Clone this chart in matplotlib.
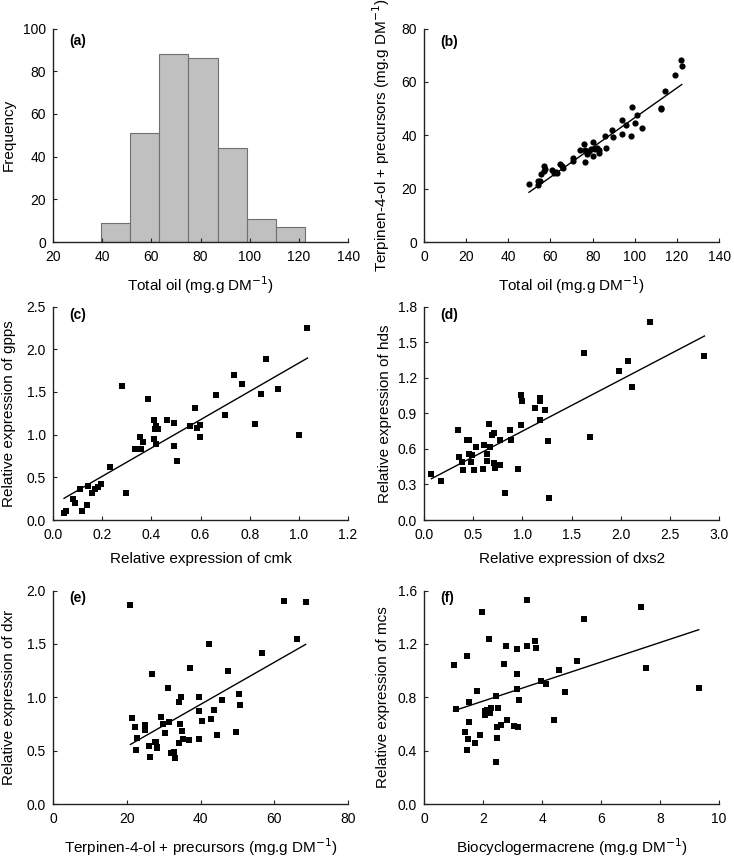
import numpy as np
import matplotlib
matplotlib.use("Agg")
from matplotlib import pyplot as plt

plt.rcParams['font.family'] = ['Liberation Sans', 'DejaVu Sans']

# (a) histogram of total oil
hist_edges = [39.5, 51.3, 63.2, 75.1, 87.0, 98.9, 110.7, 122.5]
hist_counts = [9, 51, 88, 86, 44, 11, 7]

# (b) total oil vs terpinen-4-ol + precursors
oil_b = [49.8, 53.9, 54.1, 55.1, 55.7, 56.8, 57.0, 57.2, 60.9, 61.5, 62.6, 63.3, 64.4, 65.5, 66.1,
         70.9, 70.9, 74.1, 76.0, 76.4, 76.4, 77.5, 78.3, 79.1, 80.0, 80.4, 81.0, 81.9, 83.1, 83.1,
         86.1, 86.5, 89.2, 89.7, 93.8, 94.1, 95.7, 98.1, 98.6, 100.3, 100.9, 103.5, 112.3, 112.6,
         114.1, 119.0, 121.7, 122.3]
terp_b = [21.7, 22.7, 21.2, 22.9, 25.3, 26.7, 28.5, 27.2, 27.0, 25.7, 26.2, 25.8, 29.3, 28.3, 27.8,
          31.4, 30.5, 34.4, 36.9, 29.8, 34.3, 33.0, 34.0, 35.0, 37.4, 32.1, 35.0, 35.1, 33.3, 34.3,
          39.6, 35.4, 42.1, 39.5, 45.7, 40.4, 43.7, 39.6, 50.5, 44.5, 47.6, 42.9, 49.8, 50.3,
          56.6, 62.6, 68.4, 65.9]
fit_b = (0.557, -9.1)

# (c) cmk vs gpps
cmk = [0.045, 0.051, 0.082, 0.089, 0.108, 0.118, 0.138, 0.143, 0.160, 0.170, 0.184, 0.195, 0.233,
       0.281, 0.296, 0.333, 0.352, 0.358, 0.365, 0.387, 0.409, 0.409, 0.415, 0.419, 0.419, 0.427,
       0.463, 0.494, 0.494, 0.506, 0.557, 0.579, 0.586, 0.597, 0.597, 0.664, 0.701, 0.735, 0.768,
       0.823, 0.847, 0.866, 0.916, 1.000, 1.035]
gpps = [0.078, 0.106, 0.247, 0.196, 0.364, 0.110, 0.176, 0.396, 0.317, 0.364, 0.388, 0.419, 0.619,
        1.567, 0.317, 0.831, 0.976, 0.831, 0.917, 1.419, 1.176, 0.944, 1.066, 1.097, 0.889, 1.066,
        1.176, 1.136, 0.862, 0.686, 1.097, 1.313, 1.074, 1.117, 0.972, 1.469, 1.234, 1.701, 1.599,
        1.121, 1.477, 1.885, 1.540, 0.995, 2.253]
fit_c = (1.659, 0.180)

# (d) dxs2 vs hds
dxs2 = [0.075, 0.176, 0.349, 0.359, 0.393, 0.386, 0.434, 0.454, 0.454, 0.475, 0.488, 0.512, 0.529,
        0.603, 0.610, 0.641, 0.641, 0.664, 0.671, 0.692, 0.712, 0.708, 0.725, 0.769, 0.773, 0.827,
        0.875, 0.888, 0.953, 0.990, 0.993, 0.986, 1.125, 1.183, 1.183, 1.183, 1.234, 1.261, 1.268,
        1.624, 1.692, 1.983, 2.078, 2.119, 2.302, 2.851]
hds = [0.387, 0.330, 0.759, 0.530, 0.420, 0.488, 0.678, 0.672, 0.553, 0.488, 0.547, 0.423, 0.615,
       0.432, 0.635, 0.556, 0.497, 0.810, 0.615, 0.714, 0.734, 0.483, 0.437, 0.674, 0.466, 0.226,
       0.762, 0.677, 0.429, 1.052, 1.007, 0.804, 0.945, 1.033, 1.002, 0.844, 0.926, 0.666, 0.183,
       1.411, 0.697, 1.256, 1.343, 1.120, 1.673, 1.383]
fit_d = (0.4335, 0.316)

# (e) terpinen-4-ol + precursors vs dxr
terp_e = [21.0, 21.4, 22.1, 22.5, 22.9, 25.0, 25.0, 25.9, 26.4, 26.9, 27.7, 28.1, 27.9, 28.2, 29.2,
          29.7, 30.4, 31.3, 31.4, 32.0, 32.9, 33.1, 34.1, 34.2, 34.4, 34.8, 35.0, 35.3, 36.9, 37.2,
          39.7, 39.7, 39.5, 40.4, 42.3, 42.9, 43.7, 44.5, 45.9, 47.4, 49.7, 50.3, 50.6, 56.6, 62.7,
          66.1, 68.5]
dxr = [1.869, 0.804, 0.717, 0.510, 0.620, 0.736, 0.698, 0.548, 0.441, 1.221, 0.579, 0.532, 0.585,
       0.526, 0.811, 0.754, 0.670, 1.083, 0.770, 0.482, 0.485, 0.432, 0.573, 0.958, 0.751, 1.005,
       0.682, 0.607, 0.604, 1.271, 1.002, 0.867, 0.610, 0.776, 1.499, 0.792, 0.883, 0.648, 0.970,
       1.246, 0.679, 1.030, 0.926, 1.415, 1.903, 1.546, 1.890]
fit_e = (0.01973, 0.144)

# (f) biocyclogermacrene vs mcs
bicy = [1.00, 1.09, 1.38, 1.44, 1.45, 1.48, 1.51, 1.53, 1.73, 1.78, 1.90, 1.98, 2.05, 2.08, 2.14,
        2.20, 2.23, 2.26, 2.43, 2.45, 2.46, 2.47, 2.49, 2.61, 2.70, 2.79, 2.81, 3.04, 3.15, 3.16,
        3.16, 3.18, 3.23, 3.48, 3.50, 3.75, 3.78, 3.98, 4.12, 4.42, 4.56, 4.77, 5.20, 5.42, 7.36,
        7.53, 9.31]
mcs = [1.041, 0.712, 0.542, 1.106, 0.406, 0.484, 0.612, 0.762, 0.461, 0.850, 0.514, 1.442, 0.665,
       0.695, 0.707, 1.236, 0.685, 0.722, 0.810, 0.313, 0.577, 0.492, 0.717, 0.589, 1.051, 1.181,
       0.629, 0.582, 0.971, 1.159, 0.865, 0.577, 0.777, 1.527, 1.181, 1.221, 1.169, 0.920, 0.898,
       0.632, 1.003, 0.840, 1.071, 1.384, 1.480, 1.021, 0.873]
fit_f = (0.0732, 0.625)

unit = r'(mg.g DM$^{-1}$)'

fig = plt.figure(figsize=(7.34, 8.6), dpi=100)
lx, rx, w = 0.0722, 0.5777, 0.402
rows = [0.7186, 0.3953, 0.0651]
h = 0.2482
axa = fig.add_axes([lx, rows[0], w, h])
axb = fig.add_axes([rx, rows[0], w, h])
axc = fig.add_axes([lx, rows[1], w, h])
axd = fig.add_axes([rx, rows[1], w, h])
axe = fig.add_axes([lx, rows[2], w, h])
axf = fig.add_axes([rx, rows[2], w, h])


def style(ax, label, ly, ylab_x):
    for s in ['top', 'right']:
        ax.spines[s].set_visible(False)
    for s in ['left', 'bottom']:
        ax.spines[s].set_color('#222222')
        ax.spines[s].set_linewidth(1.0)
    ax.tick_params(direction='in', length=3, width=0.8, labelsize=10, color='#222222')
    ax.tick_params(axis='x', pad=6)
    ax.tick_params(axis='y', pad=5)
    ax.xaxis.labelpad = 7
    ax.yaxis.set_label_coords(ylab_x, 0.5)
    ax.text(0.055, ly, label, transform=ax.transAxes, fontsize=10, fontweight='bold',
            ha='left', va='center')


def scatter_fit(ax, x, y, fit, marker):
    ax.scatter(x, y, s=20, marker=marker, color='black', linewidths=0, zorder=3)
    xs = np.array([min(x), max(x)])
    ax.plot(xs, fit[0] * xs + fit[1], color='black', lw=1)


# (a)
axa.bar(hist_edges[:-1], hist_counts, width=np.diff(hist_edges), align='edge',
        color='#c0c0c0', edgecolor='#707070', linewidth=0.8)
axa.set_xlim(20, 140)
axa.set_ylim(0, 100)
axa.set_xticks(range(20, 141, 20))
axa.set_yticks(range(0, 101, 20))
axa.set_ylabel('Frequency', fontsize=11)
axa.set_xlabel('Total oil ' + unit, fontsize=11)
style(axa, '(a)', 0.94, -0.125)

# (b)
scatter_fit(axb, oil_b, terp_b, fit_b, 'o')
axb.set_xlim(0, 140)
axb.set_ylim(0, 80)
axb.set_xticks(range(0, 141, 20))
axb.set_yticks(range(0, 81, 20))
axb.set_ylabel('Terpinen-4-ol + precursors ' + unit, fontsize=11)
axb.set_xlabel('Total oil ' + unit, fontsize=11)
style(axb, '(b)', 0.935, -0.11)

# (c)
scatter_fit(axc, cmk, gpps, fit_c, 's')
axc.set_xlim(0, 1.2)
axc.set_ylim(0, 2.5)
axc.set_xticks(np.arange(0, 1.21, 0.2))
axc.set_yticks(np.arange(0, 2.51, 0.5))
axc.xaxis.set_major_formatter('{x:.1f}')
axc.yaxis.set_major_formatter('{x:.1f}')
axc.set_ylabel('Relative expression of gpps', fontsize=11)
axc.set_xlabel('Relative expression of cmk', fontsize=11)
style(axc, '(c)', 0.96, -0.125)

# (d)
scatter_fit(axd, dxs2, hds, fit_d, 's')
axd.set_xlim(0, 3.0)
axd.set_ylim(0, 1.8)
axd.set_xticks(np.arange(0, 3.01, 0.5))
axd.set_yticks(np.arange(0, 1.81, 0.3))
axd.xaxis.set_major_formatter('{x:.1f}')
axd.yaxis.set_major_formatter('{x:.1f}')
axd.set_ylabel('Relative expression of hds', fontsize=11)
axd.set_xlabel('Relative expression of dxs2', fontsize=11)
style(axd, '(d)', 0.96, -0.11)

# (e)
scatter_fit(axe, terp_e, dxr, fit_e, 's')
axe.set_xlim(0, 80)
axe.set_ylim(0, 2.0)
axe.set_xticks(range(0, 81, 20))
axe.set_yticks(np.arange(0, 2.01, 0.5))
axe.yaxis.set_major_formatter('{x:.1f}')
axe.set_ylabel('Relative expression of dxr', fontsize=11)
axe.set_xlabel('Terpinen-4-ol + precursors ' + unit, fontsize=11)
style(axe, '(e)', 0.965, -0.125)

# (f)
scatter_fit(axf, bicy, mcs, fit_f, 's')
axf.set_xlim(0, 10)
axf.set_ylim(0, 1.6)
axf.set_xticks(range(0, 11, 2))
axf.set_yticks(np.arange(0, 1.61, 0.4))
axf.yaxis.set_major_formatter('{x:.1f}')
axf.set_ylabel('Relative expression of mcs', fontsize=11)
axf.set_xlabel('Biocyclogermacrene ' + unit, fontsize=11)
style(axf, '(f)', 0.965, -0.115)

fig.savefig('out.png', dpi=100)
